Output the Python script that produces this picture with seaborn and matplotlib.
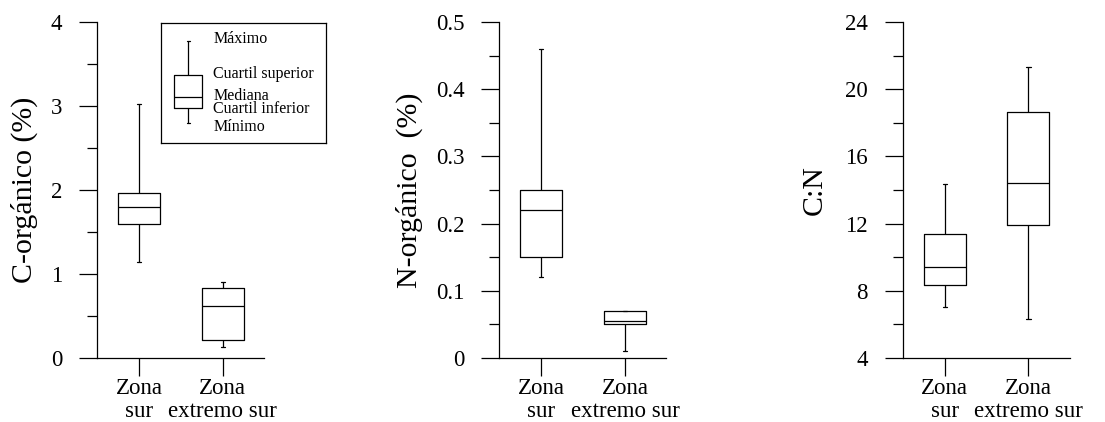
import numpy as np
import pandas as pd
import seaborn as sns
import matplotlib.pyplot as plt
from matplotlib.ticker import MultipleLocator, FuncFormatter

### DATOS (min, Q1, mediana, Q3, max) POR ZONA
zonas = ['Zona\nsur', 'Zona\nextremo sur']

c_sur = [1.14, 1.59, 1.80, 1.96, 3.03]
c_extremo = [0.13, 0.21, 0.62, 0.83, 0.90]

n_sur = [0.12, 0.15, 0.22, 0.25, 0.46]
n_extremo = [0.01, 0.05, 0.055, 0.07, 0.07]

cn_sur = [7.05, 8.35, 9.40, 11.36, 14.36]
cn_extremo = [6.32, 11.90, 14.40, 18.66, 21.30]

# caja de ejemplo para la leyenda
ejemplo = [0.166, 0.290, 0.386, 0.566, 0.851]
etiquetas_ley = ['Máximo', 'Cuartil superior', 'Mediana', 'Cuartil inferior', 'Mínimo']
pos_ley = [0.865, 0.575, 0.395, 0.282, 0.135]

sns.set_style('ticks')
plt.rcParams['font.family'] = ['Liberation Serif', 'DejaVu Serif']
plt.rcParams['axes.linewidth'] = 0.9
plt.rcParams['text.color'] = 'black'
plt.rcParams['axes.labelcolor'] = 'black'
plt.rcParams['axes.edgecolor'] = 'black'
plt.rcParams['xtick.color'] = 'black'
plt.rcParams['ytick.color'] = 'black'


def make_df(a, b):
    return pd.DataFrame({'zona': [zonas[0]] * len(a) + [zonas[1]] * len(b),
                         'valor': a + b})


paneles = [
    (make_df(c_sur, c_extremo), 'C-orgánico (%)', (0, 4), 1, 0.5, -0.355),
    (make_df(n_sur, n_extremo), 'N-orgánico  (%)', (0, 0.5), 0.1, 0.05, -0.455),
    (make_df(cn_sur, cn_extremo), 'C:N', (4, 24), 4, 2, -0.447),
]
lefts = [0.0878, 0.4519, 0.8169]

fig = plt.figure(figsize=(11.05, 4.22), dpi=100)
box_kws = dict(color='black', fill=False, linewidth=0.9, width=0.5,
               whis=(0, 100), capwidths=0.05)

for (df, label, ylim, major, minor, lx), left in zip(paneles, lefts):
    ax = fig.add_axes([left, 0.1517, 0.151, 0.796])
    sns.boxplot(data=df, x='zona', y='valor', order=zonas, ax=ax, **box_kws)
    ax.set_xlim(-0.5, 1.49)
    ax.set_ylim(*ylim)
    ax.yaxis.set_major_locator(MultipleLocator(major))
    ax.yaxis.set_minor_locator(MultipleLocator(minor))
    ax.yaxis.set_major_formatter(FuncFormatter(lambda v, p: '%g' % round(v, 3)))
    ax.tick_params(axis='both', which='major', length=13, width=0.9,
                   labelsize=16.5)
    ax.tick_params(axis='y', which='major', pad=12)
    ax.tick_params(axis='x', which='major', pad=1.5)
    ax.tick_params(axis='y', which='minor', length=7, width=0.9)
    for t in ax.get_xticklabels():
        t.set_linespacing(1.1)
    ax.set_xlabel('')
    ax.set_ylabel(label, fontsize=21.5)
    ax.yaxis.set_label_coords(lx, 0.5)
    sns.despine(ax=ax)

# leyenda
lax = fig.add_axes([160.7 / 1105, (422 - 143.3) / 422, 165.3 / 1105, 120.6 / 422])
sns.boxplot(y=ejemplo, ax=lax, **box_kws)
lax.set_xlim(-0.488, 2.433)
lax.set_ylim(0, 1)
lax.set_xticks([])
lax.set_yticks([])
lax.set_ylabel('')
for s in lax.spines.values():
    s.set_visible(True)
    s.set_linewidth(0.9)
    s.set_color('black')
for txt, yy in zip(etiquetas_ley, pos_ley):
    lax.text(0.318, yy, txt, transform=lax.transAxes, fontsize=11.5,
             va='center', ha='left')

plt.savefig('out.png', dpi=100)
plt.close('all')
